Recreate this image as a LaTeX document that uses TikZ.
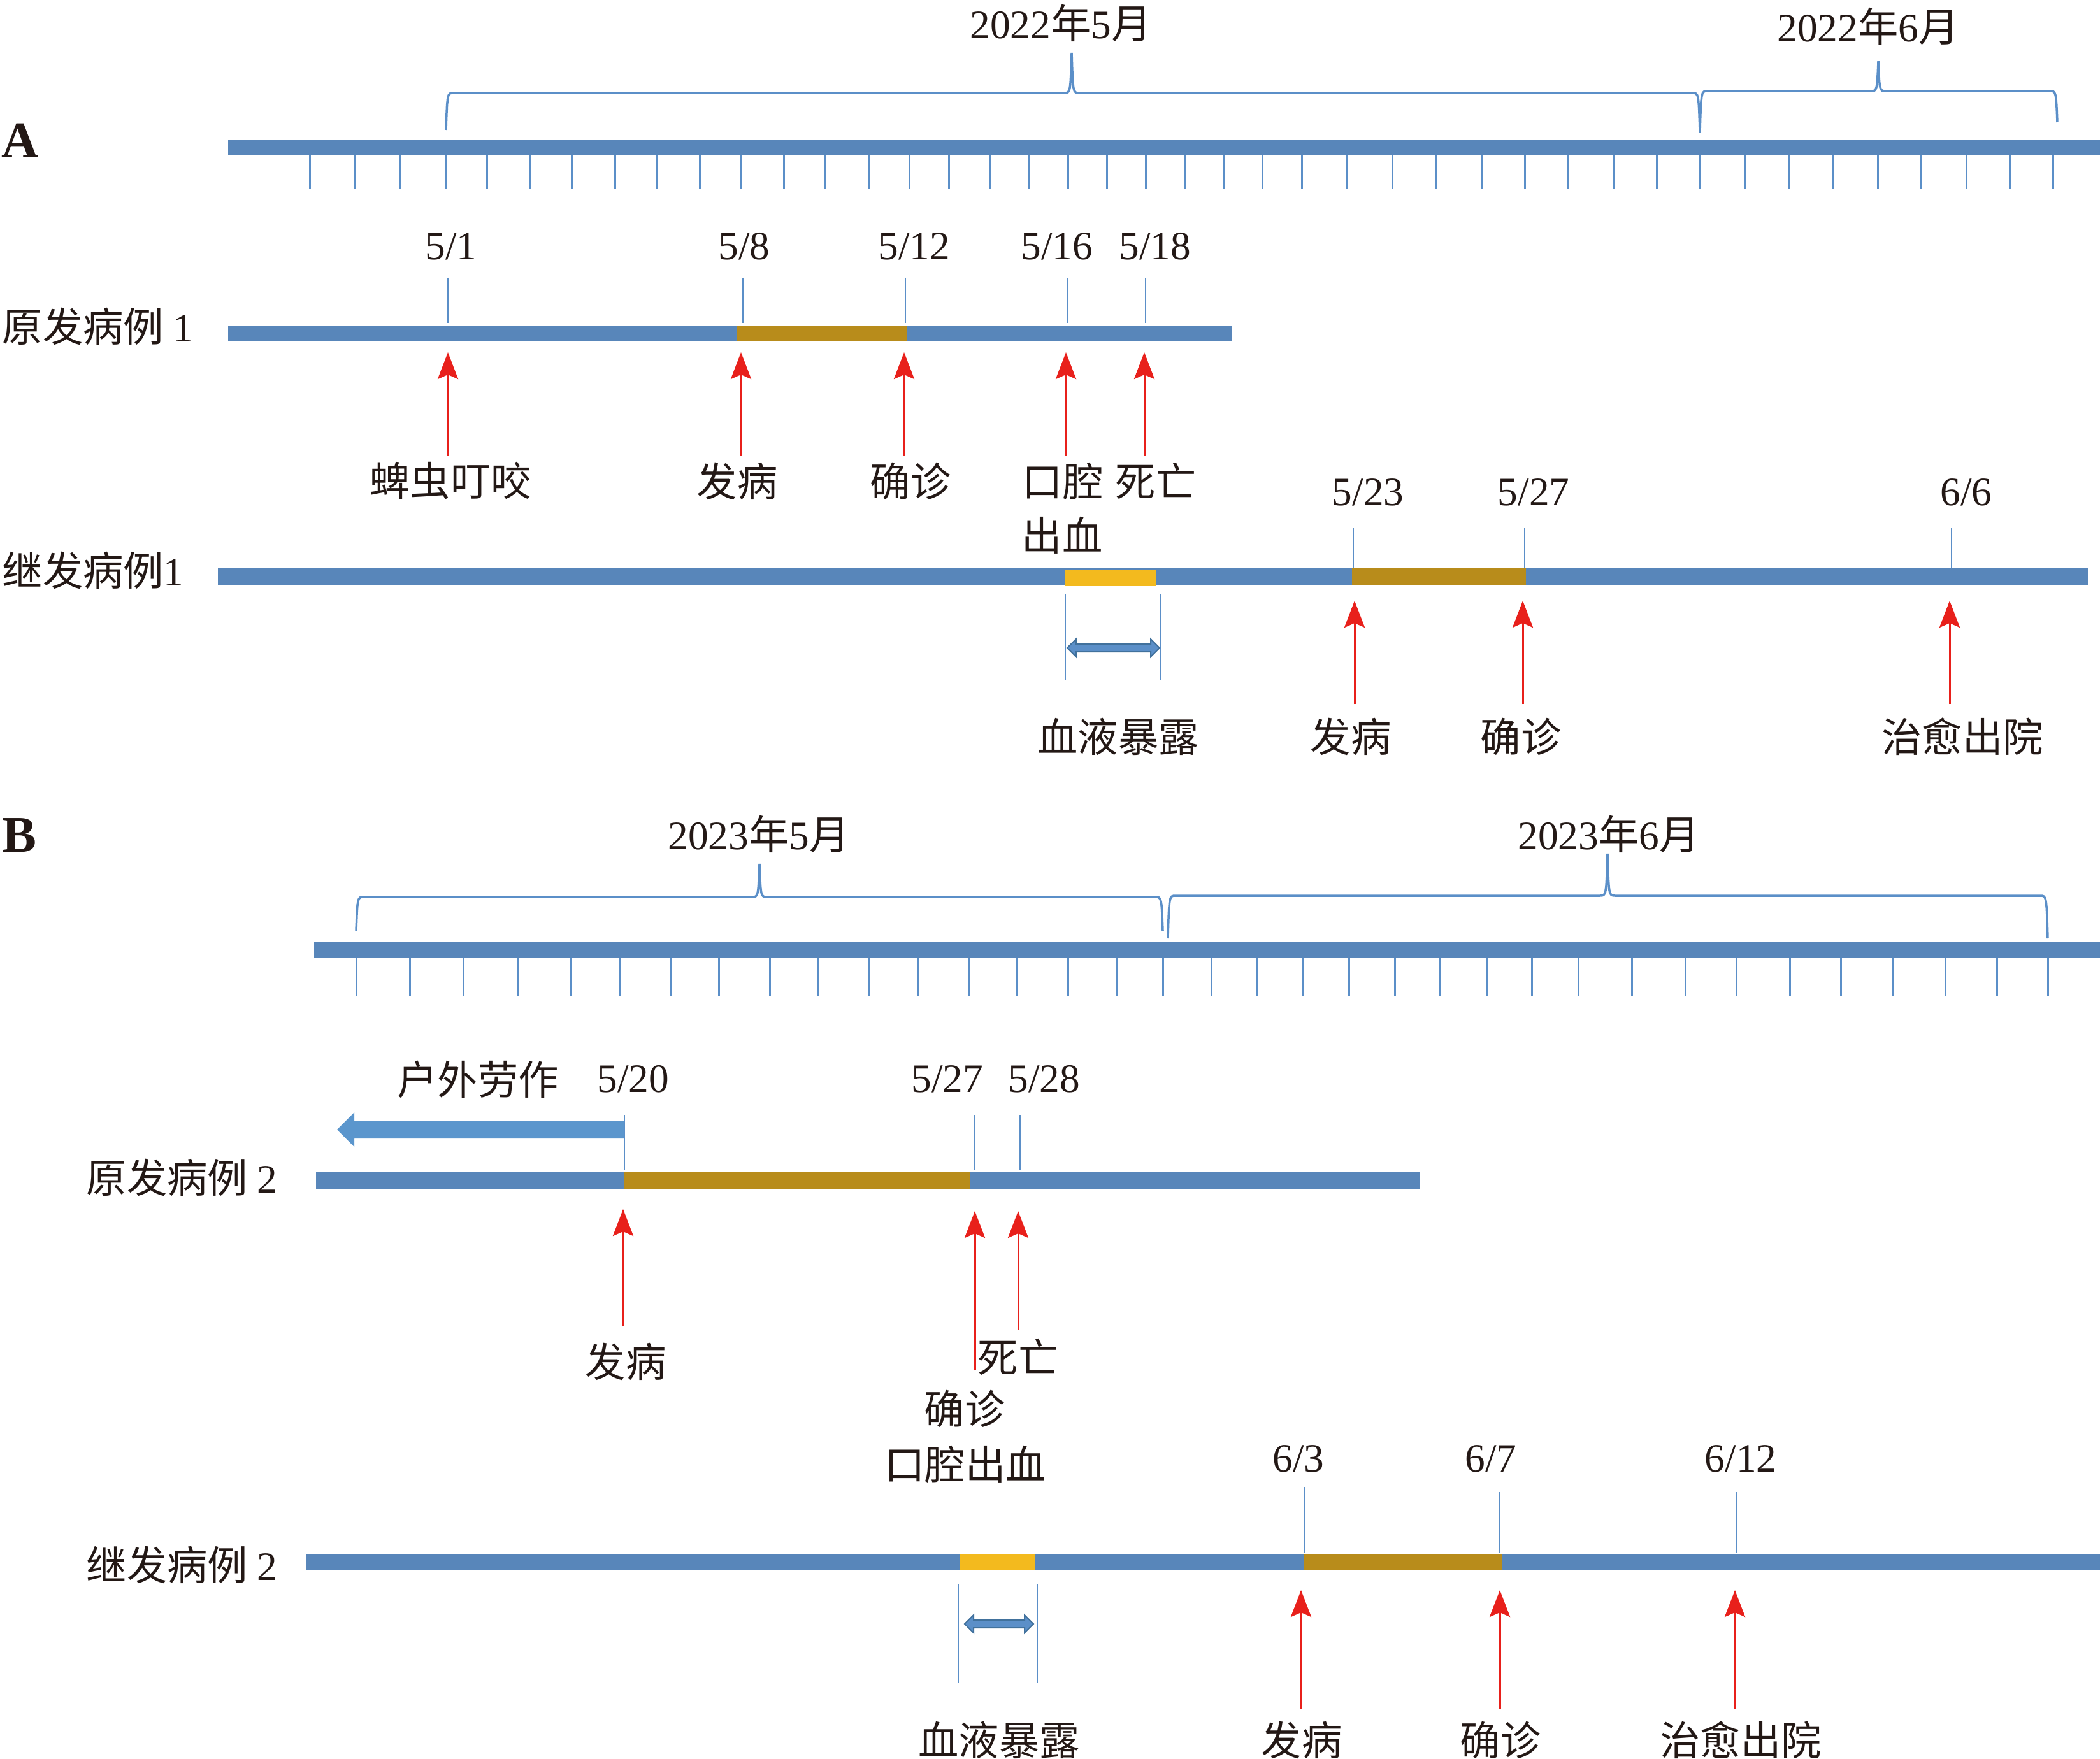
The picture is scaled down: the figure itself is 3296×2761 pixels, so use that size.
\documentclass[tikz,border=0pt]{standalone}
\usepackage{fontspec}
\setmainfont{Liberation Serif}
\newfontfamily\cjk{Noto Sans CJK SC}
\usetikzlibrary{arrows.meta}

\definecolor{barblue}{RGB}{88,134,186}
\definecolor{lineblue}{RGB}{91,143,200}
\definecolor{arrowblue}{RGB}{91,150,205}
\definecolor{edgeblue}{RGB}{65,113,156}
\definecolor{ochre}{RGB}{184,140,27}
\definecolor{sunyellow}{RGB}{243,186,30}
\definecolor{evtred}{RGB}{232,32,27}
\definecolor{inkblack}{RGB}{35,24,21}

% blood exposure double arrow: x1, x2, y
\newcommand{\expoarrow}[3]{%
  \filldraw[fill=lineblue, draw=edgeblue, line width=0.02cm]
    (#1,#3) -- ({#1+14},{#3-14}) -- ({#1+14},{#3-6}) -- ({#2-14},{#3-6})
    -- ({#2-14},{#3-14}) -- (#2,#3) -- ({#2-14},{#3+14}) -- ({#2-14},{#3+6})
    -- ({#1+14},{#3+6}) -- ({#1+14},{#3+14}) -- cycle;}

\begin{document}
\begin{tikzpicture}[x=0.01cm, y=-0.01cm,
    every node/.append style={text=inkblack, inner sep=0pt},
    datelbl/.style={font=\fontsize{18}{20}\selectfont},
    evtlbl/.style={font=\cjk\fontsize{18}{20}\selectfont},
    panellbl/.style={font=\bfseries\fontsize{23}{25}\selectfont},
    daytick/.style={draw=lineblue, line width=0.03cm},
    datemark/.style={draw=lineblue, line width=0.028cm},
    bracelin/.style={draw=lineblue, line width=0.035cm},
    evtarrow/.style={draw=evtred, line width=0.03cm,
      -{Stealth[length=0.42cm, width=0.32cm, inset=0.07cm]}}]

    \useasboundingbox (0,0) rectangle (3296,2761);

    % ===== A =====
    \node[panellbl] (labA) at (32,221) {A};

    % months
    \node[datelbl] (mayA) at (1665,36) {2022{\cjk 年}5{\cjk 月}};
    \node[datelbl] (junA) at (2932,41) {2022{\cjk 年}6{\cjk 月}};
    \draw[bracelin] (700,204) .. controls (702,146) .. (712,146) -- (1670,146)
        .. controls (1680,146) .. (1682,83) .. controls (1684,146) .. (1694,146)
        -- (2656,146) .. controls (2666,146) .. (2668,208);
    \draw[bracelin] (2668,208) .. controls (2670,143) .. (2680,143) -- (2936,143)
        .. controls (2946,143) .. (2948,96) .. controls (2950,143) .. (2960,143)
        -- (3217,143) .. controls (3227,143) .. (3229,192);

    % axis
    \fill[barblue] (358,219) rectangle (3296,244);
    \foreach \x in {486,556,628,699,764,832,897,965,1030,1098,1162,1230,1295,
        1363,1427,1489,1553,1614,1676,1737,1798,1859,1920,1981,2043,2114,2185,
        2254,2325,2393,2461,2533,2600,2668,2739,2808,2876,2947,3015,3086,3154,3222}
        \draw[daytick] (\x,244) -- (\x,296);

    % primary case 1
    \node[evtlbl, anchor=west] (prim1) at (3,512) {原发病例 {\rmfamily 1}};
    \fill[barblue] (358,511) rectangle (1933,536);
    \fill[ochre] (1156,511) rectangle (1423,536);

    \node[datelbl] (p1d1) at (708,387) {5/1};
    \node[datelbl] (p1d8) at (1168,387) {5/8};
    \node[datelbl] (p1d12) at (1435,387) {5/12};
    \node[datelbl] (p1d16) at (1659,387) {5/16};
    \node[datelbl] (p1d18) at (1813,387) {5/18};
    \foreach \x in {703,1166,1421,1676,1798}
        \draw[datemark] (\x,436) -- (\x,507);

    \node[evtlbl] (p1bite) at (707,755) {蜱虫叮咬};
    \node[evtlbl] (p1onset) at (1157,755) {发病};
    \node[evtlbl] (p1diag) at (1429,755) {确诊};
    \node[evtlbl] (p1oral) at (1668,755) {口腔};
    \node[evtlbl] (p1bleed) at (1667,840) {出血};
    \node[evtlbl] (p1death) at (1814,755) {死亡};
    \foreach \x in {703,1163,1419,1673,1796}
        \draw[evtarrow] (\x,715) -- (\x,553);

    % secondary case 1
    \node[evtlbl, anchor=west] (sec1) at (3,895) {继发病例{\rmfamily 1}};
    \fill[barblue] (342,892) rectangle (3277,918);
    \fill[sunyellow] (1672,894) rectangle (1814,920);
    \fill[ochre] (2122,892) rectangle (2395,918);

    \node[datelbl] (s1d23) at (2147,773) {5/23};
    \node[datelbl] (s1d27) at (2407,773) {5/27};
    \node[datelbl] (s1d6) at (3086,773) {6/6};
    \foreach \x in {2124,2393,3063}
        \draw[datemark] (\x,829) -- (\x,892);

    \draw[datemark] (1672,933) -- (1672,1067);
    \draw[datemark] (1822,933) -- (1822,1067);
    \expoarrow{1675}{1820}{1017}

    \node[evtlbl] (s1blood) at (1755,1156) {血液暴露};
    \node[evtlbl] (s1onset) at (2120,1156) {发病};
    \node[evtlbl] (s1diag) at (2387,1156) {确诊};
    \node[evtlbl] (s1cure) at (3080,1156) {治愈出院};
    \foreach \x in {2126,2390,3060}
        \draw[evtarrow] (\x,1105) -- (\x,943);

    % ===== B =====
    \node[panellbl] (labB) at (30,1311) {B};

    % months
    \node[datelbl] (mayB) at (1191,1309) {2023{\cjk 年}5{\cjk 月}};
    \node[datelbl] (junB) at (2525,1309) {2023{\cjk 年}6{\cjk 月}};
    \draw[bracelin] (559,1461) .. controls (561,1408) .. (571,1408) -- (1180,1408)
        .. controls (1190,1408) .. (1192,1356) .. controls (1194,1408) .. (1204,1408)
        -- (1813,1408) .. controls (1823,1408) .. (1825,1461);
    \draw[bracelin] (1833,1473) .. controls (1835,1406) .. (1845,1406) -- (2511,1406)
        .. controls (2521,1406) .. (2523,1340) .. controls (2525,1406) .. (2535,1406)
        -- (3202,1406) .. controls (3212,1406) .. (3214,1473);

    % axis
    \fill[barblue] (493,1478) rectangle (3296,1503);
    \foreach \x in {559,643,727,812,896,972,1052,1128,1208,1283,1364,1441,1521,
        1596,1676,1753,1825,1901,1973,2045,2117,2189,2260,2333,2404,2477,2561,
        2645,2725,2809,2889,2970,3053,3134,3214}
        \draw[daytick] (\x,1503) -- (\x,1563);

    % primary case 2
    \node[evtlbl] (p2work) at (750,1694) {户外劳作};
    \fill[arrowblue] (980,1760) -- (556,1760) -- (556,1746) -- (529,1773)
        -- (556,1800) -- (556,1787) -- (980,1787) -- cycle;

    \node[evtlbl, anchor=west] (prim2) at (135,1848) {原发病例 {\rmfamily 2}};
    \fill[barblue] (496,1839) rectangle (2228,1867);
    \fill[ochre] (979,1839) rectangle (1523,1867);

    \node[datelbl] (p2d20) at (994,1694) {5/20};
    \node[datelbl] (p2d27) at (1487,1694) {5/27};
    \node[datelbl] (p2d28) at (1639,1694) {5/28};
    \foreach \x in {980,1529,1601}
        \draw[datemark] (\x,1750) -- (\x,1836);

    \node[evtlbl] (p2onset) at (982,2137) {发病};
    \node[evtlbl] (p2death) at (1598,2130) {死亡};
    \node[evtlbl] (p2diag) at (1514,2211) {确诊};
    \node[evtlbl] (p2oral) at (1515,2298) {口腔出血};
    \draw[evtarrow] (978,2082) -- (978,1898);
    \draw[evtarrow] (1530,2151) -- (1530,1901);
    \draw[evtarrow] (1598,2087) -- (1598,1901);

    % secondary case 2
    \node[evtlbl, anchor=west] (sec2) at (135,2456) {继发病例 {\rmfamily 2}};
    \fill[barblue] (481,2440) rectangle (3296,2465);
    \fill[sunyellow] (1506,2440) rectangle (1625,2465);
    \fill[ochre] (2047,2440) rectangle (2358,2465);

    \node[datelbl] (s2d3) at (2038,2290) {6/3};
    \node[datelbl] (s2d7) at (2340,2290) {6/7};
    \node[datelbl] (s2d12) at (2732,2290) {6/12};
    \draw[datemark] (2048,2334) -- (2048,2437);
    \draw[datemark] (2353,2342) -- (2353,2437);
    \draw[datemark] (2726,2342) -- (2726,2437);

    \draw[datemark] (1504,2486) -- (1504,2641);
    \draw[datemark] (1628,2486) -- (1628,2641);
    \expoarrow{1514}{1622}{2549}

    \node[evtlbl] (s2blood) at (1568,2731) {血液暴露};
    \node[evtlbl] (s2onset) at (2043,2731) {发病};
    \node[evtlbl] (s2diag) at (2355,2731) {确诊};
    \node[evtlbl] (s2cure) at (2732,2731) {治愈出院};
    \foreach \x in {2042,2354,2723}
        \draw[evtarrow] (\x,2682) -- (\x,2496);

\end{tikzpicture}
\end{document}
